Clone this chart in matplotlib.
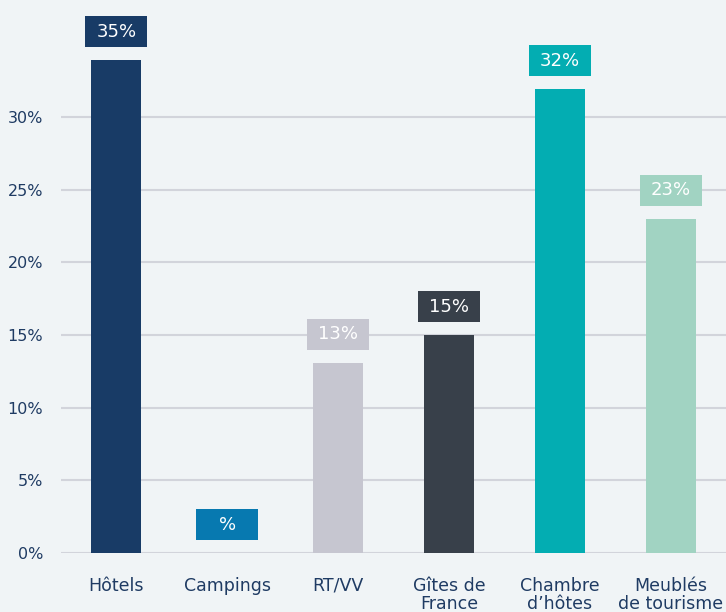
import matplotlib
matplotlib.use("Agg")
import matplotlib.pyplot as plt
from matplotlib.patches import Rectangle

categories = ["Hôtels", "Campings", "RT/VV", "Gîtes de\nFrance", "Chambre\nd’hôtes", "Meublés\nde tourisme"]
values = [33.9, 0.0, 13.1, 15.0, 31.9, 23.0]
value_labels = ["35%", "%", "13%", "15%", "32%", "23%"]
colors = ["#183b66", "#0779b0", "#c6c6d0", "#38404a", "#03adb2", "#a1d3c2"]
yticks = [0, 5, 10, 15, 20, 25, 30]
ytick_labels = ["0%", "5%", "10%", "15%", "20%", "25%", "30%"]

BG = "#f0f4f6"
TXT = "#1f3b63"
GRID = "#d2d4db"

plt.rcParams['font.family'] = ['DejaVu Sans']

fig = plt.figure(figsize=(7.26, 6.12), dpi=100, facecolor=BG)
W, H = 726, 612
left_px, right_px, bottom_px, top_px = 61, 726, 553, 0
ax = fig.add_axes([left_px / W, (H - bottom_px) / H, (right_px - left_px) / W, (bottom_px - top_px) / H])
ax.set_facecolor(BG)

ymax = 553 / (436 / 30)
ax.set_xlim(-0.5, 5.5)
ax.set_ylim(0, ymax)

for y in yticks:
    ax.axhline(y, color=GRID, lw=1.5, zorder=1)

x = list(range(len(categories)))
bar_w = 50 / 110.8
ax.bar(x, values, width=bar_w, color=colors, zorder=2)

px_per_x = 110.8
px_per_y = 436 / 30
box_w = 62 / px_per_x
box_h = 31 / px_per_y
gap = 13 / px_per_y
for xi, v, lab, c in zip(x, values, value_labels, colors):
    y0 = v + gap
    ax.add_patch(Rectangle((xi - box_w / 2, y0), box_w, box_h, facecolor=c,
                           edgecolor='none', zorder=3, clip_on=False))
    ax.text(xi, y0 + box_h / 2, lab, color="white", fontsize=13,
            ha="center", va="center", zorder=4, clip_on=False)

ax.set_yticks(yticks)
ax.set_yticklabels(ytick_labels, color=TXT, fontsize=11.5)
ax.set_xticks(x)
ax.set_xticklabels(categories, color=TXT, fontsize=12.5, linespacing=1.05)
ax.tick_params(axis='y', length=0, pad=13)
ax.tick_params(axis='x', length=0, pad=17)
for s in ax.spines.values():
    s.set_visible(False)

fig.savefig("out.png", dpi=100, facecolor=BG)
